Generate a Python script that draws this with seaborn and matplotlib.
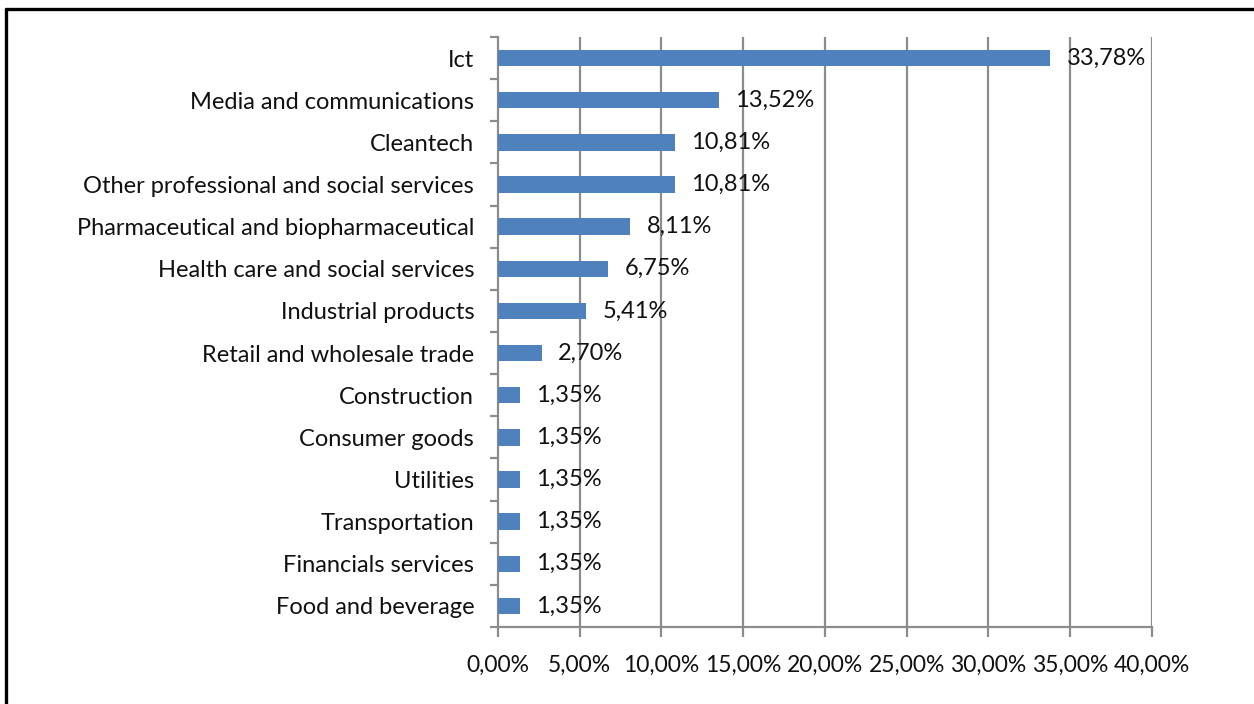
import matplotlib
matplotlib.use("Agg")
import matplotlib.pyplot as plt
from matplotlib.lines import Line2D
from matplotlib.ticker import FixedLocator, FuncFormatter
import seaborn as sns
import pandas as pd

sectors = [
    "Ict",
    "Media and communications",
    "Cleantech",
    "Other professional and social services",
    "Pharmaceutical and biopharmaceutical",
    "Health care and social services",
    "Industrial products",
    "Retail and wholesale trade",
    "Construction",
    "Consumer goods",
    "Utilities",
    "Transportation",
    "Financials services",
    "Food and beverage",
]
shares = [33.78, 13.52, 10.81, 10.81, 8.11, 6.75, 5.41, 2.70,
          1.35, 1.35, 1.35, 1.35, 1.35, 1.35]
x_ticks = [0, 5, 10, 15, 20, 25, 30, 35, 40]

df = pd.DataFrame({"sector": sectors, "share": shares})

sns.set_theme(style="white")
plt.rcParams["font.family"] = ["Lato", "DejaVu Sans"]

fig = plt.figure(figsize=(12.54, 7.04), dpi=100)
ax = fig.add_axes([0.397, 0.1094, 0.5216, 0.838])

bar_color = "#4F81BD"
grid_color = "#8C8C8C"
text_color = "#111111"
fs = 17

sns.barplot(data=df, y="sector", x="share", orient="h", color=bar_color,
            width=0.39, saturation=1, linewidth=0, ax=ax, zorder=3)

ax.set_xlim(0, 40)
ax.set_ylim(len(sectors) - 0.5, -0.5)
ax.xaxis.set_major_locator(FixedLocator(x_ticks))
ax.xaxis.set_major_formatter(
    FuncFormatter(lambda v, p: f"{v:.2f}".replace(".", ",") + "%"))
ax.set_xlabel("")
ax.set_ylabel("")

# vertical gridlines
for v in x_ticks[1:]:
    ax.axvline(v, color=grid_color, lw=1.6, zorder=1)

for s in ["top", "right"]:
    ax.spines[s].set_visible(False)
for s in ["left", "bottom"]:
    ax.spines[s].set_color(grid_color)
    ax.spines[s].set_linewidth(1.6)

# category ticks sit on the boundaries between bars
ax.set_yticks(range(len(sectors)))
ax.set_yticklabels(sectors)
ax.set_yticks([i - 0.5 for i in range(len(sectors) + 1)], minor=True)
ax.tick_params(axis="y", which="major", left=True, length=0, pad=17,
               labelsize=fs, labelcolor=text_color)
ax.tick_params(axis="y", which="minor", left=True, length=6, width=1.6,
               color=grid_color, direction="out")
ax.tick_params(axis="x", which="major", bottom=True, length=7, width=1.6,
               color=grid_color, direction="out", pad=13, labelsize=16.5,
               labelcolor=text_color)

# value labels
for i, v in enumerate(shares):
    ax.text(v + 1.0, i, f"{v:.2f}".replace(".", ",") + "%",
            va="center", ha="left", fontsize=fs, color=text_color, zorder=4)

# frame lines along the top and left edges
fig.add_artist(Line2D([0.0048, 1.0], [0.987, 0.987], color="black", lw=2.4,
                      transform=fig.transFigure))
fig.add_artist(Line2D([0.0048, 0.0048], [0.0, 0.987], color="black", lw=2.4,
                      transform=fig.transFigure))

fig.savefig("out.png", dpi=100, facecolor="white")
